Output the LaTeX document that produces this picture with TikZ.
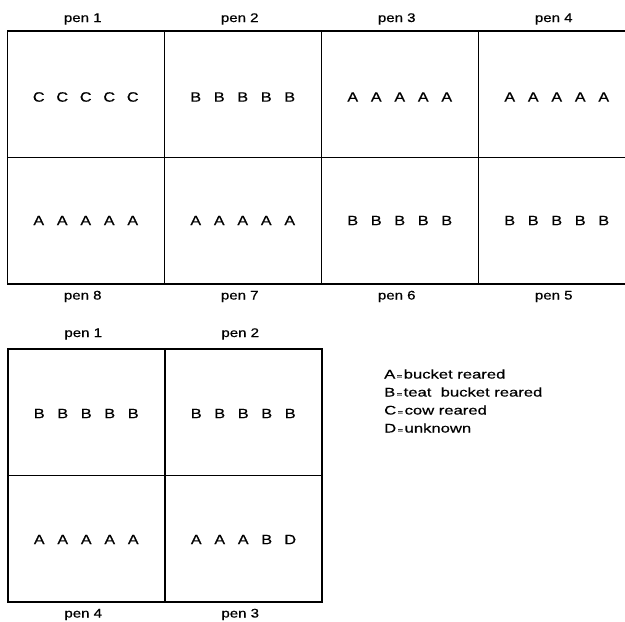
\documentclass[tikz,border=0pt]{standalone}
\usepackage{fontspec}
\setmainfont[FakeStretch=1.2,FakeBold=0.6]{Liberation Sans}
\newfontfamily\keyfont[FakeStretch=1.33,FakeBold=0.6]{Liberation Sans}
\newcommand\penrow[5]{\makebox[23.5pt]{#1}\makebox[23.5pt]{#2}\makebox[23.5pt]{#3}\makebox[23.5pt]{#4}\makebox[23.5pt]{#5}}
\newcommand\eqsign{{\fontsize{7}{7}\selectfont\hspace{1.5pt}=\hspace{1.5pt}}}
\begin{document}
\begin{tikzpicture}[x=1pt,y=-1pt,
  cell/.style={draw, line width=1.5pt, minimum width=157pt, minimum height=126.5pt,
    inner sep=0pt, anchor=north west},
  calves/.style={inner sep=0pt, font=\fontsize{13.5}{13.5}\selectfont},
  pen/.style={font=\fontsize{12.5}{12.5}\selectfont, anchor=base},
  legend/.style={inner sep=0pt, font=\keyfont\fontsize{12.5}{12.5}\selectfont, anchor=base west}]
\useasboundingbox (0,0) rectangle (625,622);
% upper layout: eight pens
\node[cell] (t1) at (6.5,30)    {};
\node[cell] (t2) at (163.5,30)  {};
\node[cell] (t3) at (320.5,30)  {};
\node[cell] (t4) at (477.5,30)  {};
\node[cell] (t8) at (6.5,156.5)   {};
\node[cell] (t7) at (163.5,156.5) {};
\node[cell] (t6) at (320.5,156.5) {};
\node[cell] (t5) at (477.5,156.5) {};
\node[calves] (c1) at ([yshift=-3pt]t1.center) {\penrow CCCCC};
\node[calves] (c2) at ([yshift=-3pt]t2.center) {\penrow BBBBB};
\node[calves] (c3) at ([yshift=-3pt]t3.center) {\penrow AAAAA};
\node[calves] (c4) at ([yshift=-3pt]t4.center) {\penrow AAAAA};
\node[calves] (c8) at (t8.center) {\penrow AAAAA};
\node[calves] (c7) at (t7.center) {\penrow AAAAA};
\node[calves] (c6) at (t6.center) {\penrow BBBBB};
\node[calves] (c5) at (t5.center) {\penrow BBBBB};
\foreach \c/\t in {t1/pen 1,t2/pen 2,t3/pen 3,t4/pen 4}
  \node[pen] (l\c) at ([xshift=-3pt,yshift=8pt]\c.north) {\t};
\foreach \c/\t in {t8/pen 8,t7/pen 7,t6/pen 6,t5/pen 5}
  \node[pen] (l\c) at ([xshift=-3pt,yshift=-15pt]\c.south) {\t};
% lower layout: four pens
\node[cell] (b1) at (7,348)     {};
\node[cell] (b2) at (164,348)   {};
\node[cell] (b4) at (7,474.5)   {};
\node[cell] (b3) at (164,474.5) {};
\node[calves] (d1) at ([yshift=-1.5pt]b1.center) {\penrow BBBBB};
\node[calves] (d2) at ([yshift=-1.5pt]b2.center) {\penrow BBBBB};
\node[calves] (d4) at ([yshift=-1pt]b4.center) {\penrow AAAAA};
\node[calves] (d3) at ([yshift=-1pt]b3.center) {\penrow AAABD};
\foreach \c/\t in {b1/pen 1,b2/pen 2}
  \node[pen] (l\c) at ([xshift=-3pt,yshift=11pt]\c.north) {\t};
\foreach \c/\t in {b4/pen 4,b3/pen 3}
  \node[pen] (l\c) at ([xshift=-3pt,yshift=-15pt]\c.south) {\t};
% key
\node[legend] (ka) at (384,378.5) {A\eqsign bucket reared};
\node[legend] (kb) at (384,396.5) {B\eqsign teat\ \ bucket reared};
\node[legend] (kc) at (384,414.5) {C\eqsign cow reared};
\node[legend] (kd) at (384,432.5) {D\eqsign unknown};
\end{tikzpicture}
\end{document}
